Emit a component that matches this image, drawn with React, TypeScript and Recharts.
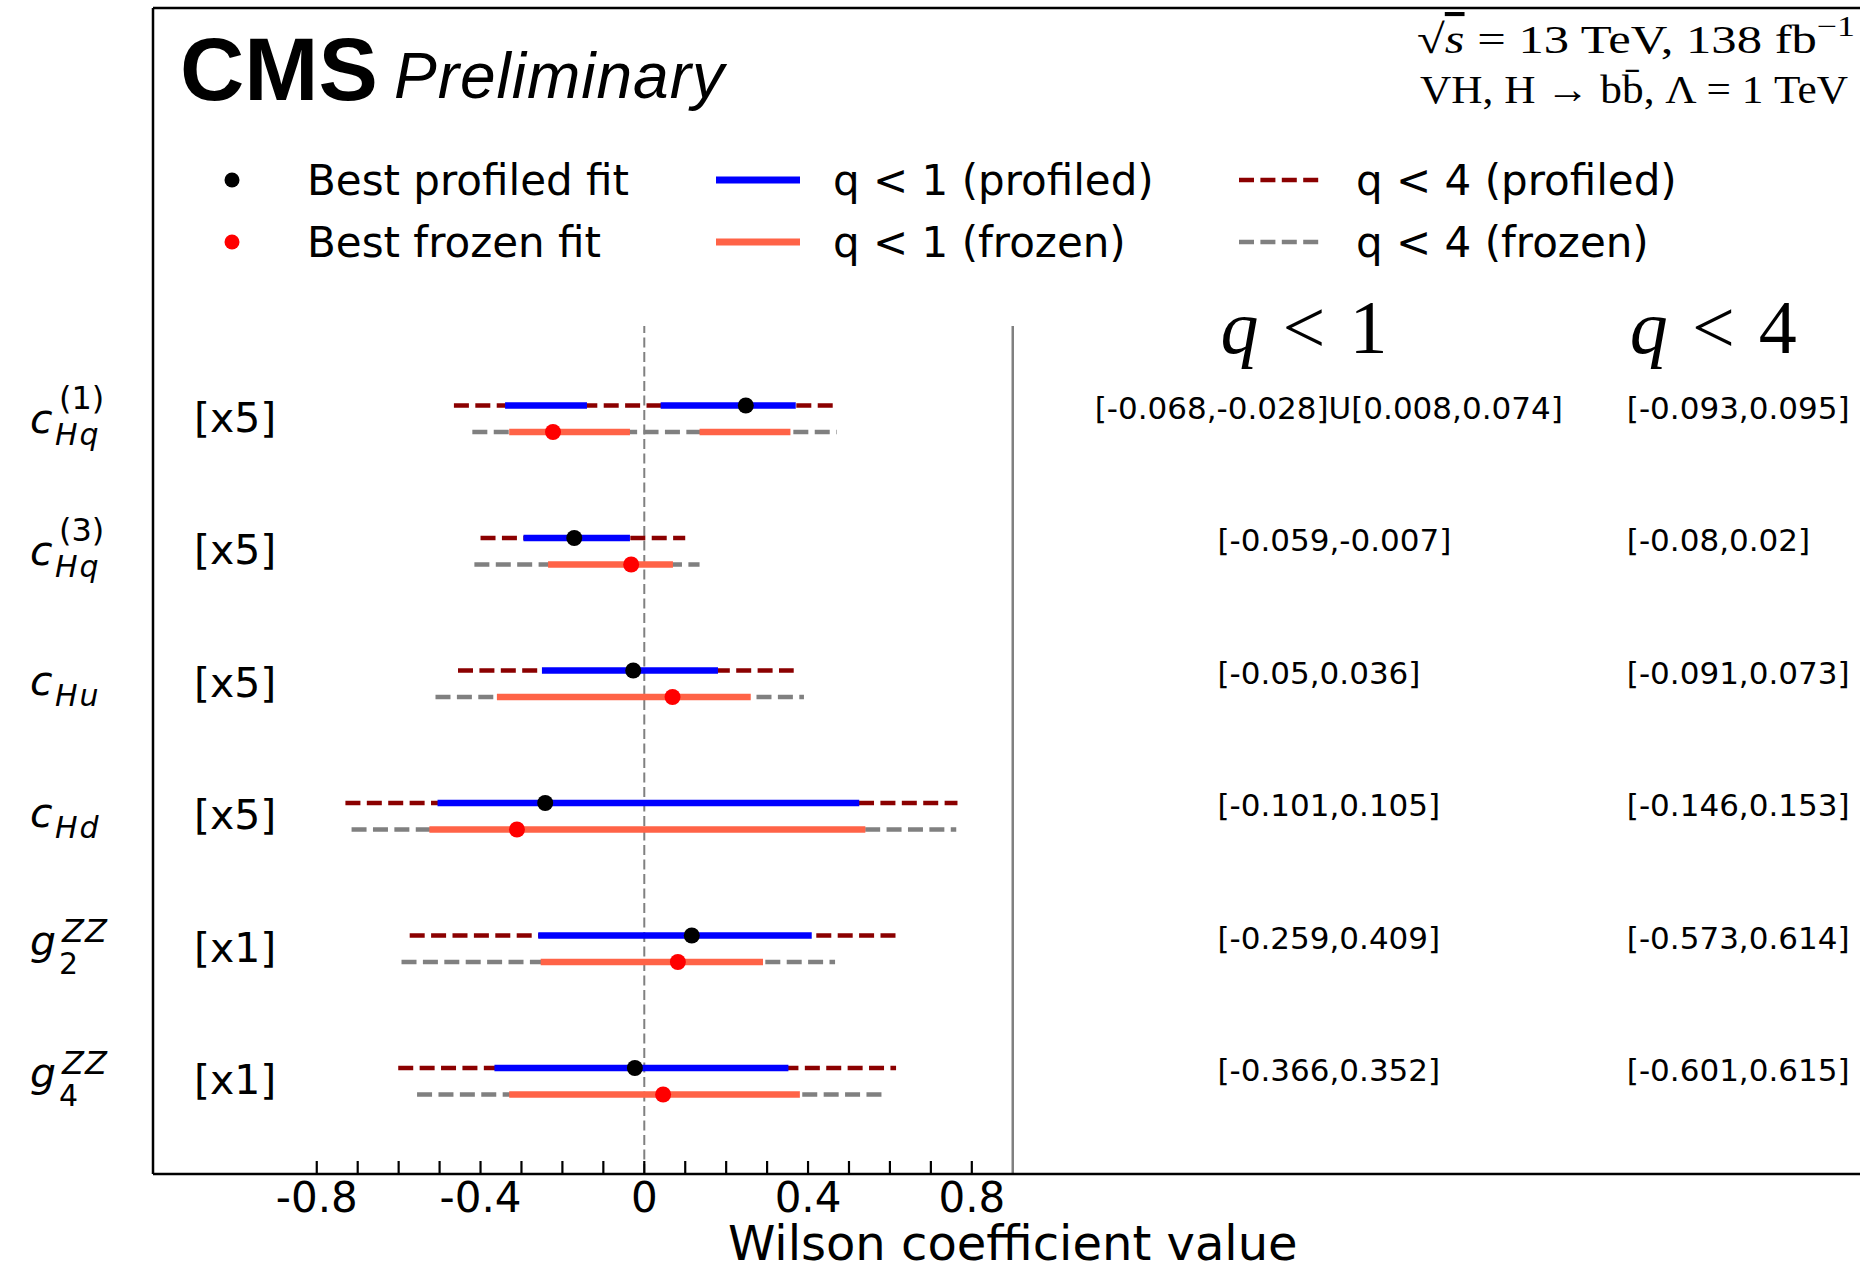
import React from 'react';
import { ComposedChart, XAxis, YAxis, Scatter, ReferenceLine } from 'recharts';

// Wilson coefficients, top row first
const coefBase = ['c', 'c', 'c', 'c', 'g', 'g'];
const coefSub = ['Hq', 'Hq', 'Hu', 'Hd', '2', '4'];
const coefSup = ['(1)', '(3)', '', '', 'ZZ', 'ZZ'];
const rowScale = [5, 5, 5, 5, 1, 1];

// profiled intervals as quoted in the table (before the row scale)
const q1Profiled = [
  [[-0.068, -0.028], [0.008, 0.074]],
  [[-0.059, -0.007]],
  [[-0.05, 0.036]],
  [[-0.101, 0.105]],
  [[-0.259, 0.409]],
  [[-0.366, 0.352]],
];
const q4Profiled = [
  [-0.093, 0.095],
  [-0.08, 0.02],
  [-0.091, 0.073],
  [-0.146, 0.153],
  [-0.573, 0.614],
  [-0.601, 0.615],
];

// frozen intervals (already times the row scale)
const q1Frozen = [
  [[-0.33, -0.035], [0.135, 0.357]],
  [[-0.235, 0.07]],
  [[-0.36, 0.26]],
  [[-0.525, 0.54]],
  [[-0.253, 0.29]],
  [[-0.33, 0.38]],
];
const q4Frozen = [
  [-0.42, 0.47],
  [-0.415, 0.135],
  [-0.51, 0.39],
  [-0.715, 0.762],
  [-0.593, 0.466],
  [-0.555, 0.583],
];

// best fit points as drawn (times the row scale)
const bestProfiled = [0.248, -0.171, -0.027, -0.242, 0.116, -0.023];
const bestFrozen = [-0.223, -0.032, 0.069, -0.311, 0.082, 0.046];

const xTicks = [-0.8, -0.7, -0.6, -0.5, -0.4, -0.3, -0.2, -0.1, 0, 0.1, 0.2, 0.3, 0.4, 0.5, 0.6, 0.7, 0.8];
const xLabelTicks = [-0.8, -0.4, 0, 0.4, 0.8];
const xTickLabels = ['-0.8', '-0.4', '0', '0.4', '0.8'];
const yRowTicks = [0, 1, 2, 3, 4, 5];

const legendLabels = [
  ['Best profiled fit', 'Best frozen fit'],
  ['q < 1 (profiled)', 'q < 1 (frozen)'],
  ['q < 4 (profiled)', 'q < 4 (frozen)'],
];

const DARKRED = '#8b0000';
const GREY = '#808080';
const BLUE = '#0000ff';
const TOMATO = '#ff6347';

const rowY = (i: number) => 5 - i;
const fmtInterval = (iv: number[]) => `[${iv[0]},${iv[1]}]`;

const scaleTexts = rowScale.map((s, i) => ({ x: -1.1, y: rowY(i), text: `[x${s}]` }));
const q1Texts = q1Profiled.map((ivs, i) => ({
  x: ivs.length > 1 ? 1.1 : 1.4,
  y: rowY(i),
  text: ivs.map(fmtInterval).join('U'),
}));
const q4Texts = q4Profiled.map((iv, i) => ({ x: 2.4, y: rowY(i), text: fmtInterval(iv) }));
const headers = [
  { x: 1.4, y: 5.5, text: '1' },
  { x: 2.4, y: 5.5, text: '4' },
];

function XTick(props: any) {
  const { x, y, payload } = props;
  const k = xLabelTicks.findIndex((t) => Math.abs(t - payload.value) < 1e-9);
  return (
    <g>
      <line x1={x} x2={x} y1={y} y2={y - 13} stroke="black" strokeWidth={2.2} />
      {k >= 0 && (
        <text x={x} y={y + 38} textAnchor="middle" fontSize={42} fill="black">
          {xTickLabels[k]}
        </text>
      )}
    </g>
  );
}

function CoefTick(props: any) {
  const { y, payload } = props;
  const i = 5 - payload.value;
  const isG = coefBase[i] === 'g';
  const hasSup = coefSup[i] !== '';
  const off = isG ? { b: 6, sub: 25, sup: -7 } : hasSup ? { b: 14, sub: 26, sup: -10 } : { b: 11, sub: 22, sup: 0 };
  return (
    <g fill="black">
      <text x={30} y={y + off.b} fontSize={41} fontStyle="italic">
        {coefBase[i]}
      </text>
      <text
        x={isG ? 59 : 55}
        y={y + off.sub}
        fontSize={30}
        fontStyle={isG ? 'normal' : 'italic'}
        letterSpacing={isG ? 0 : 2}
      >
        {coefSub[i]}
      </text>
      {hasSup && (
        <text
          x={isG ? 62 : 59}
          y={y + off.sup}
          fontSize={32}
          fontStyle={isG ? 'italic' : 'normal'}
          letterSpacing={isG ? 1 : 0}
        >
          {coefSup[i]}
        </text>
      )}
    </g>
  );
}

const dot = (color: string) => (p: any) => <circle cx={p.cx} cy={p.cy} r={8} fill={color} />;

function Overlay() {
  const rows = [180, 242];
  return (
    <svg width={1860} height={1271} style={{ position: 'absolute', left: 0, top: 0, pointerEvents: 'none' }}>
      <text x={180} y={100} fontFamily="Liberation Sans" fontWeight="bold" fontSize={89} fill="black">
        CMS
      </text>
      <text x={394} y={98} fontFamily="Liberation Sans" fontStyle="italic" fontSize={64} fill="black" textLength={330}>
        Preliminary
      </text>

      <g fontFamily="Liberation Serif" fontSize={41} fill="black">
        <text x={1417} y={53} textLength={438} lengthAdjust="spacingAndGlyphs">
          <tspan>√</tspan>
          <tspan fontStyle="italic" textDecoration="overline">
            s
          </tspan>
          <tspan> = 13 TeV, 138 fb</tspan>
          <tspan dy={-17} fontSize={29}>
            −1
          </tspan>
        </text>
        <text x={1420} y={103} textLength={428} lengthAdjust="spacingAndGlyphs">
          VH, H → bb̄, Λ = 1 TeV
        </text>
      </g>

      {/* legend */}
      <circle cx={232} cy={rows[0]} r={7.5} fill="black" />
      <circle cx={232} cy={rows[1]} r={7.5} fill="#ff0000" />
      <line x1={716} x2={800} y1={rows[0]} y2={rows[0]} stroke={BLUE} strokeWidth={7} />
      <line x1={716} x2={800} y1={rows[1]} y2={rows[1]} stroke={TOMATO} strokeWidth={7} />
      <line x1={1239} x2={1322} y1={rows[0]} y2={rows[0]} stroke={DARKRED} strokeWidth={4.5} strokeDasharray="15 6.4" />
      <line x1={1239} x2={1322} y1={rows[1]} y2={rows[1]} stroke={GREY} strokeWidth={4.5} strokeDasharray="15 6.4" />
      {legendLabels.map((col, c) =>
        col.map((lab, r) => (
          <text key={`${c}-${r}`} x={[307, 833, 1356][c]} y={rows[r] + 15} fontSize={42} fill="black">
            {lab}
          </text>
        ))
      )}
    </svg>
  );
}

export default function App() {
  return (
    <div
      style={{
        position: 'relative',
        width: 1860,
        height: 1271,
        overflow: 'hidden',
        background: 'white',
        fontFamily: 'DejaVu Sans',
      }}
    >
      <style>{'body{margin:0}'}</style>
      <ComposedChart width={1880} height={1271} margin={{ top: 8, right: 7.5, bottom: 0, left: 0 }}>
        <XAxis
          type="number"
          dataKey="x"
          domain={[-1.2, 3.0]}
          allowDataOverflow
          ticks={xTicks}
          interval={0}
          tickSize={0}
          tickMargin={0}
          tickLine={false}
          tick={<XTick />}
          height={97}
          axisLine={{ stroke: 'black', strokeWidth: 2.5 }}
          label={{
            value: 'Wilson coefficient value',
            position: 'insideBottom',
            offset: 11,
            fontSize: 48,
            fill: 'black',
          }}
        />
        <YAxis
          type="number"
          dataKey="y"
          domain={[-0.7, 8.1]}
          allowDataOverflow
          ticks={yRowTicks}
          interval={0}
          tickSize={0}
          tickMargin={0}
          tickLine={false}
          tick={<CoefTick />}
          width={153}
          axisLine={{ stroke: 'black', strokeWidth: 2.5 }}
        />

        <ReferenceLine y={8.1} stroke="black" strokeWidth={2.5} ifOverflow="visible" />
        <ReferenceLine
          segment={[{ x: 0, y: -0.7 }, { x: 0, y: 5.7 }]}
          stroke={GREY}
          strokeWidth={2}
          strokeDasharray="10 4.5"
          ifOverflow="visible"
        />
        <ReferenceLine
          segment={[{ x: 0.9, y: -0.7 }, { x: 0.9, y: 5.7 }]}
          stroke={GREY}
          strokeWidth={2.5}
          ifOverflow="visible"
        />

        {q4Profiled.map((iv, i) => (
          <ReferenceLine
            key={`q4p${i}`}
            segment={[
              { x: iv[0] * rowScale[i], y: rowY(i) + 0.1 },
              { x: iv[1] * rowScale[i], y: rowY(i) + 0.1 },
            ]}
            stroke={DARKRED}
            strokeWidth={4.5}
            strokeDasharray="15 6.4"
            ifOverflow="visible"
          />
        ))}
        {q4Frozen.map((iv, i) => (
          <ReferenceLine
            key={`q4f${i}`}
            segment={[
              { x: iv[0], y: rowY(i) - 0.1 },
              { x: iv[1], y: rowY(i) - 0.1 },
            ]}
            stroke={GREY}
            strokeWidth={4.5}
            strokeDasharray="15 6.4"
            ifOverflow="visible"
          />
        ))}
        {q1Profiled.map((ivs, i) =>
          ivs.map((iv, j) => (
            <ReferenceLine
              key={`q1p${i}-${j}`}
              segment={[
                { x: iv[0] * rowScale[i], y: rowY(i) + 0.1 },
                { x: iv[1] * rowScale[i], y: rowY(i) + 0.1 },
              ]}
              stroke={BLUE}
              strokeWidth={6.5}
              ifOverflow="visible"
            />
          ))
        )}
        {q1Frozen.map((ivs, i) =>
          ivs.map((iv, j) => (
            <ReferenceLine
              key={`q1f${i}-${j}`}
              segment={[
                { x: iv[0], y: rowY(i) - 0.1 },
                { x: iv[1], y: rowY(i) - 0.1 },
              ]}
              stroke={TOMATO}
              strokeWidth={6.5}
              ifOverflow="visible"
            />
          ))
        )}

        <Scatter
          data={bestProfiled.map((x, i) => ({ x, y: rowY(i) + 0.1 }))}
          fill="black"
          shape={dot('black')}
          isAnimationActive={false}
        />
        <Scatter
          data={bestFrozen.map((x, i) => ({ x, y: rowY(i) - 0.1 }))}
          fill="#ff0000"
          shape={dot('#ff0000')}
          isAnimationActive={false}
        />

        <Scatter
          data={scaleTexts}
          isAnimationActive={false}
          shape={(p: any) => (
            <text x={p.cx} y={p.cy + 13} fontSize={41} fill="black">
              {p.payload.text}
            </text>
          )}
        />
        <Scatter
          data={[...q1Texts, ...q4Texts]}
          isAnimationActive={false}
          shape={(p: any) => (
            <text x={p.cx} y={p.cy} fontSize={31} fill="black">
              {p.payload.text}
            </text>
          )}
        />
        <Scatter
          data={headers}
          isAnimationActive={false}
          shape={(p: any) => (
            <text x={p.cx + 3} y={p.cy} fontSize={76} fontFamily="Liberation Serif" fill="black" textLength={167}>
              <tspan fontStyle="italic">q</tspan>
              <tspan> &lt; {p.payload.text}</tspan>
            </text>
          )}
        />
      </ComposedChart>
      <Overlay />
    </div>
  );
}
